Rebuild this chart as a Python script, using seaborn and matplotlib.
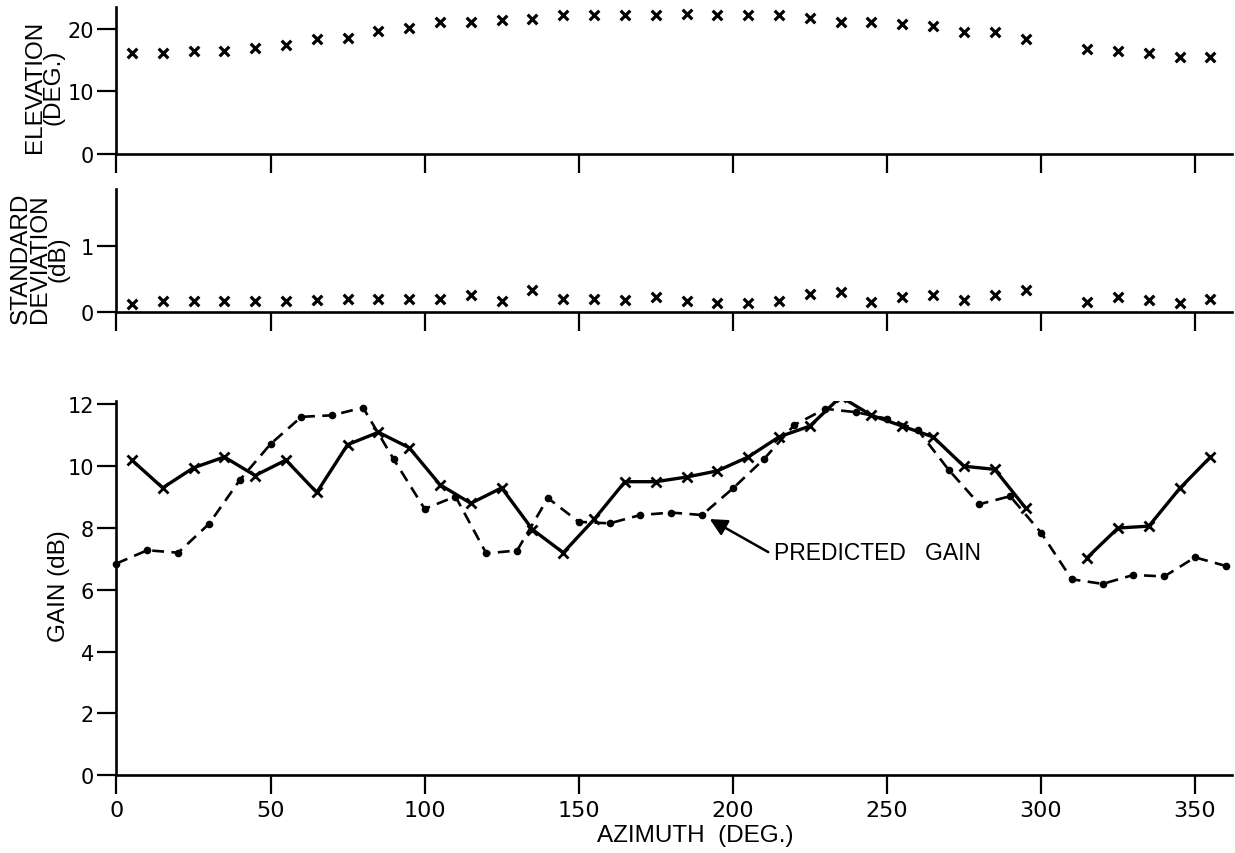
import numpy as np
import pandas as pd
import matplotlib
matplotlib.use("Agg")
import matplotlib.pyplot as plt
import seaborn as sns

# ---------------- data ----------------
az_meas = [5, 15, 25, 35, 45, 55, 65, 75, 85, 95, 105, 115, 125, 135, 145,
           155, 165, 175, 185, 195, 205, 215, 225, 235, 245, 255, 265, 275,
           285, 295, 315, 325, 335, 345, 355]
elevation = [16.2, 16.2, 16.5, 16.5, 16.9, 17.4, 18.4, 18.6, 19.7, 20.1, 21.1,
             21.1, 21.4, 21.6, 22.2, 22.2, 22.2, 22.3, 22.4, 22.3, 22.2, 22.2,
             21.8, 21.1, 21.1, 20.8, 20.4, 19.5, 19.5, 18.4, 16.8, 16.4, 16.1,
             15.5, 15.5]
std_dev = [0.12, 0.17, 0.17, 0.17, 0.17, 0.17, 0.18, 0.20, 0.20, 0.20, 0.20,
           0.25, 0.17, 0.33, 0.20, 0.20, 0.18, 0.23, 0.16, 0.13, 0.13, 0.17,
           0.27, 0.30, 0.15, 0.22, 0.26, 0.18, 0.25, 0.33, 0.15, 0.22, 0.18,
           0.13, 0.20]
gain_meas = [10.2, 9.3, 9.95, 10.3, 9.7, 10.2, 9.15, 10.7, 11.1, 10.6, 9.4,
             8.8, 9.3, 7.95, 7.2, 8.28, 9.5, 9.5, 9.65, 9.85, 10.3, 10.95,
             11.3, 12.25, 11.65, 11.3, 10.95, 10.0, 9.9, 8.65, 7.04, 8.0,
             8.06, 9.28, 10.3]

az_pred = [0, 10, 20, 30, 40, 50, 60, 70, 80, 90, 100, 110, 120, 130, 140,
           150, 160, 170, 180, 190, 200, 210, 220, 230, 240, 250, 260, 270,
           280, 290, 300, 310, 320, 330, 340, 350, 360]
gain_pred = [6.85, 7.28, 7.2, 8.13, 9.55, 10.72, 11.6, 11.65, 11.9, 10.22,
             8.62, 9.02, 7.18, 7.27, 8.97, 8.2, 8.15, 8.42, 8.5, 8.42, 9.28,
             10.22, 11.34, 11.86, 11.75, 11.54, 11.18, 9.89, 8.77, 9.03, 7.85,
             6.34, 6.19, 6.48, 6.43, 7.05, 6.77]

x_ticks = [0, 50, 100, 150, 200, 250, 300, 350]
elev_ticks = [0, 10, 20]
sd_ticks = [0, 1]
gain_ticks = [0, 2, 4, 6, 8, 10, 12]

# ---------------- frames ----------------
meas = pd.DataFrame({"az": az_meas, "elev": elevation, "sd": std_dev,
                     "gain": gain_meas})
meas["seg"] = np.where(meas["az"] < 300, 0, 1)   # data gap at 305 deg
pred = pd.DataFrame({"az": az_pred, "gain": gain_pred})

# ---------------- style ----------------
sns.set_theme(style="ticks")
plt.rcParams["font.family"] = ["DejaVu Sans"]
plt.rcParams["axes.edgecolor"] = "black"

fig = plt.figure(figsize=(12.35, 8.54), dpi=100)
L = 0.0943
W = 0.9976 - L
ax1 = fig.add_axes([L, 0.8185, W, 0.172])
ax2 = fig.add_axes([L, 0.6335, W, 0.144])
ax3 = fig.add_axes([L, 0.0913, W, 0.4375])

# elevation
sns.scatterplot(data=meas, x="az", y="elev", marker="x", s=48,
                color="black", linewidth=2.3, ax=ax1, clip_on=False)
# standard deviation
sns.scatterplot(data=meas, x="az", y="sd", marker="x", s=48,
                color="black", linewidth=2.3, ax=ax2, clip_on=False)
# measured gain
sns.lineplot(data=meas, x="az", y="gain", units="seg", estimator=None,
             color="black", lw=2.4, marker="x", markersize=7.5, mew=2.0,
             mec="black", ax=ax3)
# predicted gain
sns.lineplot(data=pred, x="az", y="gain", color="black", lw=1.9,
             linestyle=(0, (4.5, 2.8)), marker="o", markersize=5.5, mew=0,
             mec="black", ax=ax3, clip_on=False)

ax3.annotate("", xy=(192.5, 8.29), xytext=(211.5, 7.22),
             arrowprops=dict(arrowstyle="-|>", color="black", lw=1.8,
                             mutation_scale=26, shrinkA=0, shrinkB=0))
ax3.text(213.5, 7.2, "PREDICTED   GAIN", ha="left", va="center",
         fontsize=16.5, family="Liberation Sans", color="black")

for ax in (ax1, ax2, ax3):
    sns.despine(ax=ax)
    ax.set_xlim(0, 362)
    ax.set_xticks(x_ticks)
    ax.set_xlabel("")
    ax.set_ylabel("")
    ax.tick_params(axis="both", direction="out", length=14, width=1.6,
                   colors="black", labelsize=15, pad=2)
    for sp in ("left", "bottom"):
        ax.spines[sp].set_linewidth(1.9)
        ax.spines[sp].set_color("black")
    ax.set_facecolor("white")

ax1.set_ylim(0, 23.5)
ax1.set_yticks(elev_ticks)
ax1.set_xticklabels([])
ax2.set_ylim(0, 1.86)
ax2.set_yticks(sd_ticks)
ax2.set_xticklabels([])
ax3.set_ylim(0, 12.1)
ax3.set_yticks(gain_ticks)
ax3.set_xticklabels([str(t) for t in x_ticks])
ax3.tick_params(axis="x", labelsize=16, pad=4)

lab = dict(rotation=90, ha="center", va="center", multialignment="center",
           fontsize=17.5, family="Liberation Sans", color="black",
           linespacing=0.8)
fig.text(0.0355, 0.898, "ELEVATION\n(DEG.)", **lab)
fig.text(0.032, 0.697, "STANDARD\nDEVIATION\n(dB)", **lab)
fig.text(0.048, 0.314, "GAIN (dB)", **lab)
fig.text(0.563, 0.021, "AZIMUTH  (DEG.)", ha="center", va="center",
         fontsize=17.5, family="Liberation Sans", color="black")

fig.savefig("out.png", dpi=100, facecolor="white")
